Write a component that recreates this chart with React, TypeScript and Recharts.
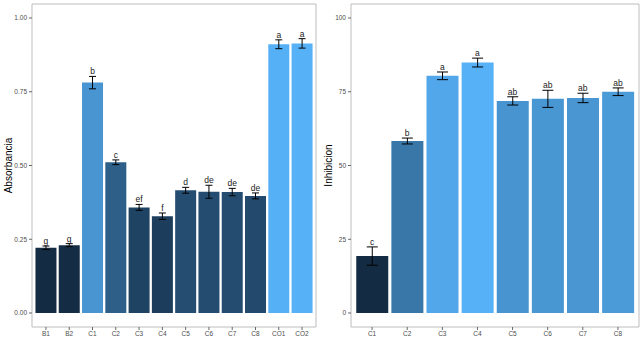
import { Bar, Cell, ComposedChart, ErrorBar, LabelList, Line, XAxis, YAxis } from "recharts";

// left panel: absorbance
const absCategories = ["B1", "B2", "C1", "C2", "C3", "C4", "C5", "C6", "C7", "C8", "CO1", "CO2"];
const absMeans = [0.221, 0.23, 0.781, 0.511, 0.358, 0.328, 0.416, 0.411, 0.41, 0.397, 0.911, 0.914];
const absErrors = [0.006, 0.005, 0.021, 0.008, 0.01, 0.011, 0.01, 0.022, 0.0125, 0.01, 0.015, 0.016];
const absLetters = ["g", "g", "b", "c", "ef", "f", "d", "de", "de", "de", "a", "a"];
const absTicks = [0, 0.25, 0.5, 0.75, 1];

// right panel: inhibition
const inhCategories = ["C1", "C2", "C3", "C4", "C5", "C6", "C7", "C8"];
const inhMeans = [19.3, 58.3, 80.4, 84.9, 71.9, 72.6, 72.9, 75.0];
const inhErrors = [3.1, 1.0, 1.3, 1.5, 1.4, 2.9, 1.6, 1.3];
const inhLetters = ["c", "b", "a", "a", "ab", "ab", "ab", "ab"];
const inhTicks = [0, 25, 50, 75, 100];

// ggplot2 default continuous fill, interpolated in Lab space
const LOW = "#132B43";
const HIGH = "#56B1F7";

const toLin = (c: number) => {
  c /= 255;
  return c <= 0.04045 ? c / 12.92 : Math.pow((c + 0.055) / 1.055, 2.4);
};
const fromLin = (c: number) => {
  const v = c <= 0.0031308 ? 12.92 * c : 1.055 * Math.pow(c, 1 / 2.4) - 0.055;
  return Math.round(Math.min(1, Math.max(0, v)) * 255);
};
const Xn = 0.95047;
const Zn = 1.08883;
const f = (t: number) => (t > 216 / 24389 ? Math.cbrt(t) : ((24389 / 27) * t + 16) / 116);
const finv = (t: number) => (t * t * t > 216 / 24389 ? t * t * t : (116 * t - 16) / (24389 / 27));

function hexToLab(hex: string) {
  const r = toLin(parseInt(hex.slice(1, 3), 16));
  const g = toLin(parseInt(hex.slice(3, 5), 16));
  const b = toLin(parseInt(hex.slice(5, 7), 16));
  const x = (0.4124 * r + 0.3576 * g + 0.1805 * b) / Xn;
  const y = 0.2126 * r + 0.7152 * g + 0.0722 * b;
  const z = (0.0193 * r + 0.1192 * g + 0.9505 * b) / Zn;
  return [116 * f(y) - 16, 500 * (f(x) - f(y)), 200 * (f(y) - f(z))];
}

function labToHex([L, a, b]: number[]) {
  const fy = (L + 16) / 116;
  const x = finv(fy + a / 500) * Xn;
  const y = finv(fy);
  const z = finv(fy - b / 200) * Zn;
  const r = fromLin(3.2406 * x - 1.5372 * y - 0.4986 * z);
  const g = fromLin(-0.9689 * x + 1.8758 * y + 0.0415 * z);
  const bl = fromLin(0.0557 * x - 0.204 * y + 1.057 * z);
  return "#" + [r, g, bl].map((v) => v.toString(16).padStart(2, "0")).join("");
}

const lowLab = hexToLab(LOW);
const highLab = hexToLab(HIGH);

function fillFor(value: number, min: number, max: number) {
  const t = (value - min) / (max - min);
  return labToHex(lowLab.map((v, i) => v + (highLab[i] - v) * t));
}

type Row = { name: string; mean: number; err: number; top: number; letter: string };

function buildRows(cats: string[], means: number[], errs: number[], letters: string[]): Row[] {
  return cats.map((name, i) => ({
    name,
    mean: means[i],
    err: errs[i],
    top: means[i] + errs[i],
    letter: letters[i],
  }));
}

const absData = buildRows(absCategories, absMeans, absErrors, absLetters);
const inhData = buildRows(inhCategories, inhMeans, inhErrors, inhLetters);

const BORDER = "#bdbdbd";
const tickStyle = { fontSize: 6.5, fill: "#4d4d4d" };

type PanelProps = {
  data: Row[];
  width: number;
  domain: [number, number];
  ticks: number[];
  format: (v: number) => string;
  title: string;
  pad: number;
  whisker: number;
  yAxisWidth: number;
};

function Panel({ data, width, domain, ticks, format, title, pad, whisker, yAxisWidth }: PanelProps) {
  const values = data.map((d) => d.mean);
  const min = Math.min(...values);
  const max = Math.max(...values);
  return (
    <ComposedChart
      width={width}
      height={352}
      data={data}
      margin={{ top: 3, right: 3, bottom: 0, left: 0 }}
      barCategoryGap="5%"
    >
      <XAxis
        dataKey="name"
        height={25}
        padding={{ left: pad, right: pad }}
        tick={tickStyle}
        tickSize={3}
        tickMargin={1}
        tickLine={{ stroke: "#666" }}
        axisLine={{ stroke: BORDER }}
        interval={0}
      />
      {/* top and right axes only draw the panel frame; the letter labels ride on them */}
      <XAxis
        xAxisId="frame"
        orientation="top"
        dataKey="name"
        height={1}
        padding={{ left: pad, right: pad }}
        tick={false}
        tickLine={false}
        axisLine={{ stroke: BORDER }}
      />
      <YAxis
        width={yAxisWidth}
        domain={domain}
        ticks={ticks}
        allowDataOverflow
        tickFormatter={format}
        tick={tickStyle}
        tickSize={3}
        tickMargin={2}
        tickLine={{ stroke: "#666" }}
        axisLine={{ stroke: BORDER }}
        label={{
          value: title,
          angle: -90,
          position: "insideLeft",
          offset: 8,
          style: { textAnchor: "middle", fontSize: 10, fill: "#000" },
        }}
      />
      <YAxis
        yAxisId="frame"
        orientation="right"
        width={1}
        domain={domain}
        allowDataOverflow
        tick={false}
        tickLine={false}
        axisLine={{ stroke: BORDER }}
      />
      <Bar dataKey="mean" isAnimationActive={false}>
        {data.map((d) => (
          <Cell key={d.name} fill={fillFor(d.mean, min, max)} />
        ))}
        <ErrorBar dataKey="err" width={whisker} stroke="#000" strokeWidth={1} />
      </Bar>
      <Line
        xAxisId="frame"
        yAxisId="frame"
        dataKey="top"
        stroke="none"
        dot={false}
        activeDot={false}
        isAnimationActive={false}
      >
        <LabelList dataKey="letter" position="top" offset={2} style={{ fontSize: 8.5, fill: "#1a1a1a" }} />
      </Line>
    </ComposedChart>
  );
}

export default function App() {
  return (
    <div
      style={{
        position: "absolute",
        left: 0,
        top: 0,
        width: 643,
        height: 352,
        background: "#fff",
        fontFamily: "'Liberation Sans', Arial, sans-serif",
      }}
    >
      <div style={{ position: "absolute", left: 0, top: 0 }}>
        <Panel
          data={absData}
          width={320}
          domain={[-0.0475, 1.0475]}
          ticks={absTicks}
          format={(v) => v.toFixed(2)}
          title="Absorbancia"
          pad={2.3}
          whisker={3.5}
          yAxisWidth={32}
        />
      </div>
      <div style={{ position: "absolute", left: 320, top: 0 }}>
        <Panel
          data={inhData}
          width={323}
          domain={[-4.75, 104.75]}
          ticks={inhTicks}
          format={(v) => String(v)}
          title="Inhibicion"
          pad={3.5}
          whisker={5.5}
          yAxisWidth={31}
        />
      </div>
    </div>
  );
}
